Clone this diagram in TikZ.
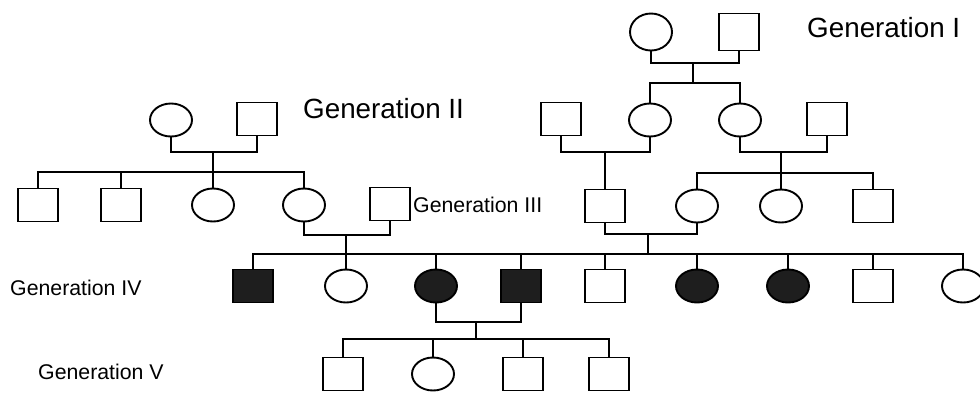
\documentclass[tikz,border=0pt]{standalone}
\usepackage{fontspec}
\setmainfont{Liberation Sans}
\usetikzlibrary{shapes.geometric}
\definecolor{affcol}{RGB}{30,30,30}
\tikzset{
  fem/.style={ellipse,draw,line width=1.9pt,minimum width=42pt,minimum height=33pt,inner sep=0pt},
  mal/.style={rectangle,draw,line width=1.9pt,minimum width=40pt,minimum height=33pt,inner sep=0pt},
  aff/.style={fill=affcol},
  link/.style={line width=1.9pt},
  biglab/.style={anchor=base west,inner sep=0pt,font=\fontsize{27.8}{30}\selectfont},
  smalllab/.style={anchor=base west,inner sep=0pt,font=\fontsize{21.3}{24}\selectfont},
}
\begin{document}
\begin{tikzpicture}[x=1pt,y=-1pt]
\useasboundingbox[fill=white] (0,0) rectangle (980,392);
% Generation I
\node[fem,minimum height=37pt] (i1) at (651,32) {};
\node[mal,minimum height=37pt] (i2) at (739,32) {};
% Generation II
\node[fem] (iiL1) at (171,120) {};
\node[mal] (iiL2) at (257,119) {};
\node[mal] (iiR1) at (561,119) {};
\node[fem] (iiR2) at (650,120) {};
\node[fem] (iiR3) at (740,120) {};
\node[mal] (iiR4) at (827,119) {};
% Generation III
\node[mal] (iii1) at (38,205) {};
\node[mal] (iii2) at (121,205) {};
\node[fem] (iii3) at (213,205) {};
\node[fem] (iii4) at (304,205) {};
\node[mal] (iii5) at (390,204) {};
\node[mal] (iii6) at (605,206) {};
\node[fem] (iii7) at (697,206) {};
\node[fem] (iii8) at (781,206) {};
\node[mal] (iii9) at (873,206) {};
% Generation IV
\node[mal,aff] (iv1) at (253,286) {};
\node[fem] (iv2) at (346,286) {};
\node[fem,aff] (iv3) at (436,286) {};
\node[mal,aff] (iv4) at (521,286) {};
\node[mal] (iv5) at (605,286) {};
\node[fem,aff] (iv6) at (697,286) {};
\node[fem,aff] (iv7) at (788,286) {};
\node[mal] (iv8) at (873,286) {};
\node[fem] (iv9) at (963,286) {};
% Generation V
\node[mal] (v1) at (343,374) {};
\node[fem] (v2) at (433,374) {};
\node[mal] (v3) at (523,374) {};
\node[mal] (v4) at (609,374) {};

% coordinates
\coordinate (mI) at (693,63);
\coordinate (sI) at (693,83);
\coordinate (mL) at (213,152);
\coordinate (sL) at (213,172);
\coordinate (mB) at (781,152);
\coordinate (sB) at (781,173);
\coordinate (mC) at (346,235);
\coordinate (mD) at (648,234);
\coordinate (sCD) at (648,254);
\coordinate (mE) at (476,322);
\coordinate (sE) at (476,339);

% Generation I family
\draw[link] (i1.south) |- (mI) -| (i2.south);
\draw[link] (mI) -- (sI);
\draw[link] (iiR2.north) |- (sI) -| (iiR3.north);

% Left generation II family
\draw[link] (iiL1.south) |- (mL) -| (iiL2.south);
\draw[link] (mL) -- (iii3.north);
\draw[link] (iii1.north) |- (sL) -| (iii4.north);
\draw[link] (iii2.north) -- (iii2.north |- sL);

% Right couple A
\draw[link] (iiR1.south) |- (iii6.north |- 0,152) -| (iiR2.south);
\draw[link] (iii6.north) -- (iii6.north |- 0,152);

% Right couple B
\draw[link] (iiR3.south) |- (mB) -| (iiR4.south);
\draw[link] (mB) -- (iii8.north);
\draw[link] (iii7.north) |- (sB) -| (iii9.north);

% Generation III couples
\draw[link] (iii4.south) |- (mC) -| (iii5.south);
\draw[link] (mC) -- (iv2.north);
\draw[link] (iii6.south) |- (mD) -| (iii7.south);
\draw[link] (mD) -- (sCD);
\draw[link] (iv1.north) |- (sCD) -| (iv9.north);
\foreach \n in {iv3,iv4,iv5,iv6,iv7,iv8}
  \draw[link] (\n.north) -- (\n.north |- sCD);

% Generation IV couple
\draw[link] (iv3.south) |- (mE) -| (iv4.south);
\draw[link] (mE) -- (sE);
\draw[link] (v1.north) |- (sE) -| (v4.north);
\draw[link] (v2.north) -- (v2.north |- sE);
\draw[link] (v3.north) -- (v3.north |- sE);

% Labels
\node[biglab] (lI) at (807,37) {Generation I};
\node[biglab] (lII) at (303,118) {Generation II};
\node[smalllab] (lIII) at (413,212) {Generation III};
\node[smalllab] (lIV) at (10,295) {Generation IV};
\node[smalllab] (lV) at (38,379) {Generation V};
\end{tikzpicture}
\end{document}
